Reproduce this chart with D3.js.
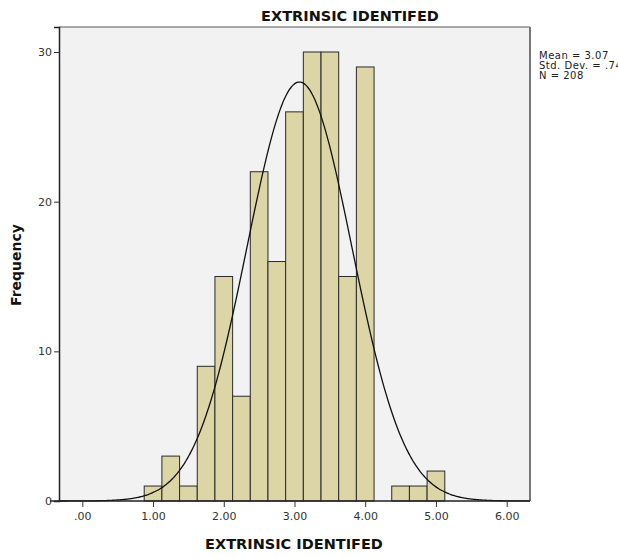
<!DOCTYPE html>
<html lang="en">
<head>
    <meta charset="UTF-8">
    <title>EXTRINSIC IDENTIFED</title>
    <script src="https://cdn.jsdelivr.net/npm/d3@7"></script>
    <style>
        body { margin: 0; background: #fff; }
        svg { display: block; }
    </style>
</head>
<body>
</body>
<script>
    // histogram data (bin centres, bin width 0.25)
    const binCenters = [1.00, 1.25, 1.50, 1.75, 2.00, 2.25, 2.50, 2.75, 3.00, 3.25, 3.50, 3.75, 4.00, 4.25, 4.50, 4.75, 5.00]
    const counts     = [1, 3, 1, 9, 15, 7, 22, 16, 26, 30, 30, 15, 29, 0, 1, 1, 2]
    const binWidth = 0.25
    const mean = 3.07
    const stdDev = 0.741
    const n = 208
    const xTicks = [0, 1, 2, 3, 4, 5, 6]
    const yTicks = [0, 10, 20, 30]
    const statLines = ["Mean = 3.07", "Std. Dev. = .741", "N = 208"]

    const width = 618
    const height = 558
    const plot = {left: 59, right: 530, top: 27, bottom: 501}

    const svg = d3.select("body").append("svg").attr("width", width).attr("height", height)

    const xScale = d3.scaleLinear().domain([-0.33, 6.33]).range([plot.left, plot.right])
    const yScale = d3.scaleLinear().domain([0, 31.67]).range([plot.bottom, plot.top])

    // plot background
    svg.append("rect")
        .attr("x", plot.left).attr("y", plot.top)
        .attr("width", plot.right - plot.left).attr("height", plot.bottom - plot.top)
        .attr("fill", "#f2f2f2")

    // bars
    const bins = binCenters.map((c, i) => ({c: c, v: counts[i]})).filter(d => d.v > 0)
    svg.selectAll(".bar")
        .data(bins)
        .enter()
        .append("rect")
        .attr("class", "bar")
        .attr("x", d => xScale(d.c - binWidth / 2))
        .attr("y", d => yScale(d.v))
        .attr("width", d => xScale(d.c + binWidth / 2) - xScale(d.c - binWidth / 2))
        .attr("height", d => yScale(0) - yScale(d.v))
        .attr("fill", "#dcd6a6")
        .attr("stroke", "#2a2a2a")
        .attr("stroke-width", 1)

    // normal curve
    const normal = x => n * binWidth / (stdDev * Math.sqrt(2 * Math.PI)) * Math.exp(-0.5 * Math.pow((x - mean) / stdDev, 2))
    const curveX = d3.range(-0.33, 6.331, 0.02)
    const line = d3.line().x(d => xScale(d)).y(d => yScale(normal(d))).curve(d3.curveBasis)
    svg.append("path")
        .datum(curveX)
        .attr("d", line)
        .attr("fill", "none")
        .attr("stroke", "#111")
        .attr("stroke-width", 1.3)

    // frame: top and right are lighter, left and bottom are axis lines
    svg.append("line").attr("x1", plot.left).attr("x2", plot.right).attr("y1", plot.top).attr("y2", plot.top)
        .attr("stroke", "#555").attr("stroke-width", 1)
    svg.append("line").attr("x1", plot.right).attr("x2", plot.right).attr("y1", plot.top).attr("y2", plot.bottom)
        .attr("stroke", "#777").attr("stroke-width", 2)

    // y axis
    const yAxis = d3.axisLeft(yScale).tickValues(yTicks).tickSize(5).tickPadding(2).tickFormat(d3.format("d"))
    const gy = svg.append("g").attr("transform", `translate(${plot.left},0)`).call(yAxis)
    gy.select(".domain").attr("stroke", "#222").attr("stroke-width", 1.5)
    gy.selectAll(".tick line").attr("stroke", "#333")
    gy.selectAll(".tick text").attr("fill", "#333").attr("font-size", 11).attr("font-family", "DejaVu Sans")

    // x axis
    const xAxis = d3.axisBottom(xScale).tickValues(xTicks).tickSize(6).tickPadding(5)
        .tickFormat(d => d3.format(".2f")(d).replace(/^0/, ""))
    const gx = svg.append("g").attr("transform", `translate(0,${plot.bottom})`).call(xAxis)
    gx.select(".domain").attr("d", `M${plot.left - 9},0H${plot.right}`).attr("stroke", "#222").attr("stroke-width", 1.5)
    gx.selectAll(".tick line").attr("stroke", "#333")
    gx.selectAll(".tick text").attr("fill", "#333").attr("font-size", 11).attr("font-family", "DejaVu Sans")

    // titles
    svg.append("text")
        .attr("x", 350).attr("y", 21)
        .attr("text-anchor", "middle")
        .attr("font-family", "DejaVu Sans").attr("font-weight", "bold").attr("font-size", 14.5)
        .attr("fill", "#111")
        .text("EXTRINSIC IDENTIFED")

    svg.append("text")
        .attr("x", 294).attr("y", 549)
        .attr("text-anchor", "middle")
        .attr("font-family", "DejaVu Sans").attr("font-weight", "bold").attr("font-size", 14.5)
        .attr("fill", "#111")
        .text("EXTRINSIC IDENTIFED")

    svg.append("text")
        .attr("transform", "translate(21,265) rotate(-90)")
        .attr("text-anchor", "middle")
        .attr("font-family", "DejaVu Sans").attr("font-weight", "bold").attr("font-size", 14)
        .attr("fill", "#111")
        .text("Frequency")

    // stats box text (clipped at the right edge, as in the original)
    svg.selectAll(".stat")
        .data(statLines)
        .enter()
        .append("text")
        .attr("class", "stat")
        .attr("x", 539)
        .attr("y", (d, i) => 59 + i * 10)
        .attr("font-family", "DejaVu Sans").attr("font-size", 10)
        .attr("letter-spacing", 0.5)
        .attr("fill", "#222")
        .text(d => d)
</script>
</html>
